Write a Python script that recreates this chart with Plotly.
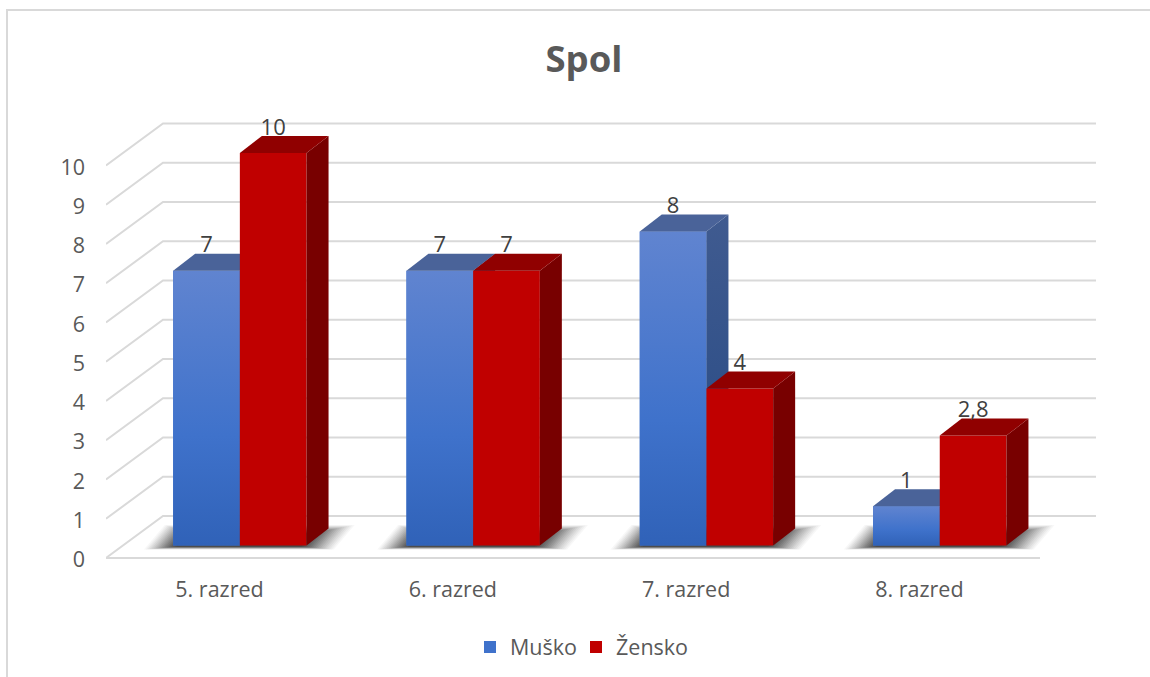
import plotly.graph_objects as go

categories = ["5. razred", "6. razred", "7. razred", "8. razred"]
musko = [7, 7, 8, 1]
zensko = [10, 7, 4, 2.8]
y_ticks = list(range(11))
title_text = "Spol"

# page-pixel frame of the plot area
W, H = 1150, 677
L, R, T, B = 106, 1100, 100, 573
PX_X = 233.3      # pixels per category
PX_Y = 39.25      # pixels per y unit
X0_PX, Y0_PX = 218, 558

xr = [(L - X0_PX) / PX_X, (R - X0_PX) / PX_X]
yr = [(Y0_PX - B) / PX_Y, (Y0_PX - T) / PX_Y]

# pseudo-3D geometry (axis units)
BAR_W = 66.7 / PX_X
DX = 22 / PX_X
DY = 17 / PX_Y
BASE = 12.5 / PX_Y
OFF_M = -11.5 / PX_X
OFF_Z = 55.2 / PX_X
GDX = 57 / PX_X
GDY = 42 / PX_Y
FLOOR_END = (1040 - X0_PX) / PX_X
TICK_NUDGE = 1.5 / PX_Y
XTICK_NUDGE = 1.5 / PX_X

BLUE_FRONT = [[0, "#3062b8"], [0.4, "#3f72cb"], [1, "#6084d0"]]
BLUE_SIDE = [[0, "#244883"], [1, "#405b90"]]
BLUE_TOP = "#4a6399"
RED_FRONT = "#c00000"
RED_TOP = "#900000"
RED_SIDE = "#780000"
GRID = "#d9d9d9"
FONT = "Open Sans"

fig = go.Figure()

# gridlines (left wall + back wall), bent at the back corner
for v in y_ticks:
    fig.add_trace(go.Scatter(
        x=[xr[0] + 0.0, xr[0] + GDX, xr[1] - 4 / PX_X],
        y=[v, v + GDY, v + GDY], mode="lines", showlegend=False, hoverinfo="skip",
        line=dict(color=GRID, width=2)))
fig.add_trace(go.Scatter(x=[xr[0], FLOOR_END], y=[0, 0], mode="lines", showlegend=False,
                         hoverinfo="skip", line=dict(color=GRID, width=2)))

# soft floor shadows, built from nested translucent parallelograms
LAYERS = 18
for i in range(len(categories)):
    left = i + OFF_M - BAR_W / 2
    right = i + OFF_Z + BAR_W / 2
    for k in range(LAYERS):
        step = LAYERS - 1 - k
        grow = step * 1.9 / PX_X
        y_low = BASE - 1 / PX_Y - step * 0.18 / PX_Y
        y_high = BASE + 12 / PX_Y + step * 0.5 / PX_Y
        skew = 0.85 * (y_high - y_low) * PX_Y / PX_X
        x_a = left + 3 / PX_X - grow
        x_b = right - 5 / PX_X + grow
        alpha = 0.03 + 0.075 * k / (LAYERS - 1)
        fig.add_trace(go.Scatter(
            x=[x_a, x_b, x_b + skew, x_a + skew, x_a],
            y=[y_low, y_low, y_high, y_high, y_low],
            mode="lines", fill="toself", fillcolor=f"rgba(0,0,0,{alpha:.3f})",
            line=dict(width=0), showlegend=False, hoverinfo="skip"))


def series(values, offset, name, front, side, top, ax, legend_id):
    xa, ya = ("x2", "y2") if ax == 2 else ("x3", "y3")
    xc = [i + offset for i in range(len(values))]
    fig.add_trace(go.Bar(
        x=xc, y=values, base=[BASE] * len(values), width=BAR_W, name=name, legend=legend_id,
        marker=dict(color=front if isinstance(front, str) else front[1][1], line=dict(width=0)),
        xaxis=xa, yaxis=ya, hovertemplate=name + ": %{y}<extra></extra>"))
    for xm, v in zip(xc, values):
        x1, x2 = xm - BAR_W / 2, xm + BAR_W / 2
        yt = BASE + v
        if not isinstance(front, str):
            fig.add_trace(go.Scatter(
                x=[x1, x2, x2, x1, x1], y=[BASE, BASE, yt, yt, BASE], mode="lines",
                fill="toself", line=dict(width=0), showlegend=False, hoverinfo="skip",
                fillgradient=dict(type="vertical", colorscale=front),
                xaxis=xa, yaxis=ya))
        side_kw = dict(fillcolor=side) if isinstance(side, str) else dict(
            fillgradient=dict(type="vertical", colorscale=side))
        fig.add_trace(go.Scatter(
            x=[x2, x2 + DX, x2 + DX, x2, x2],
            y=[BASE, BASE + DY, yt + DY, yt, BASE], mode="lines", fill="toself",
            line=dict(width=0), showlegend=False, hoverinfo="skip",
            xaxis=xa, yaxis=ya, **side_kw))
        fig.add_trace(go.Scatter(
            x=[x1, x2, x2 + DX, x1 + DX, x1],
            y=[yt, yt, yt + DY, yt + DY, yt], mode="lines", fill="toself",
            fillcolor=top, line=dict(width=0), showlegend=False, hoverinfo="skip",
            xaxis=xa, yaxis=ya))


series(musko, OFF_M, "Muško", BLUE_FRONT, BLUE_SIDE, BLUE_TOP, 2, "legend")
series(zensko, OFF_Z, "Žensko", RED_FRONT, RED_SIDE, RED_TOP, 3, "legend2")

# data labels
for values, offset in ((musko, OFF_M), (zensko, OFF_Z)):
    fig.add_trace(go.Scatter(
        x=[i + offset for i in range(len(values))],
        y=[v + BASE + DY + 7 / PX_Y for v in values],
        text=[str(v).replace(".", ",") for v in values],
        mode="text", textposition="middle center", showlegend=False, hoverinfo="skip",
        textfont=dict(family=FONT, size=22, color="#404040"),
        xaxis="x3", yaxis="y3"))

hidden = dict(range=xr, visible=False, overlaying="x", fixedrange=True)
hiddeny = dict(range=yr, visible=False, overlaying="y", fixedrange=True)
legend_common = dict(orientation="h", xanchor="left", y=1 - 647 / H, yanchor="middle",
                     xref="container", yref="container", bgcolor="rgba(0,0,0,0)",
                     font=dict(family=FONT, size=21.5, color="#595959"))

fig.update_layout(
    width=W, height=H, autosize=False,
    margin=dict(l=L, r=W - R, t=T, b=H - B, pad=0),
    paper_bgcolor="white", plot_bgcolor="white", barmode="overlay",
    title=dict(text="<b>" + title_text + "</b>", x=584 / W, xanchor="center", y=1 - 59 / H,
               yanchor="middle", font=dict(family=FONT, size=36.5, color="#595959")),
    font=dict(family=FONT, size=21.5, color="#595959"),
    xaxis=dict(range=xr, tickmode="array",
               tickvals=[i + XTICK_NUDGE for i in range(len(categories))], ticktext=categories,
               showgrid=False, zeroline=False, showline=False, ticks="", ticklabelstandoff=1,
               tickfont=dict(family=FONT, size=21.5, color="#595959"), fixedrange=True),
    yaxis=dict(range=yr, tickmode="array", tickvals=[v - TICK_NUDGE for v in y_ticks],
               ticktext=[str(v) for v in y_ticks], showgrid=False, zeroline=False,
               showline=False, ticks="", ticklabelstandoff=20,
               tickfont=dict(family=FONT, size=21.5, color="#595959"), fixedrange=True),
    xaxis2=hidden, yaxis2=hiddeny, xaxis3=hidden, yaxis3=hiddeny,
    legend=dict(x=470 / W, **legend_common),
    legend2=dict(x=576 / W, **legend_common),
    shapes=[dict(type="path", xref="paper", yref="paper",
                 path=f"M {(7 - L) / (R - L)} {(B - 700) / (B - T)} L {(7 - L) / (R - L)} {(B - 10) / (B - T)} "
                      f"L {(1170 - L) / (R - L)} {(B - 10) / (B - T)}",
                 line=dict(color=GRID, width=2), layer="below")],
)

fig.write_html("out.html", config={"displayModeBar": False},
               post_script="document.body.style.margin='0';")
